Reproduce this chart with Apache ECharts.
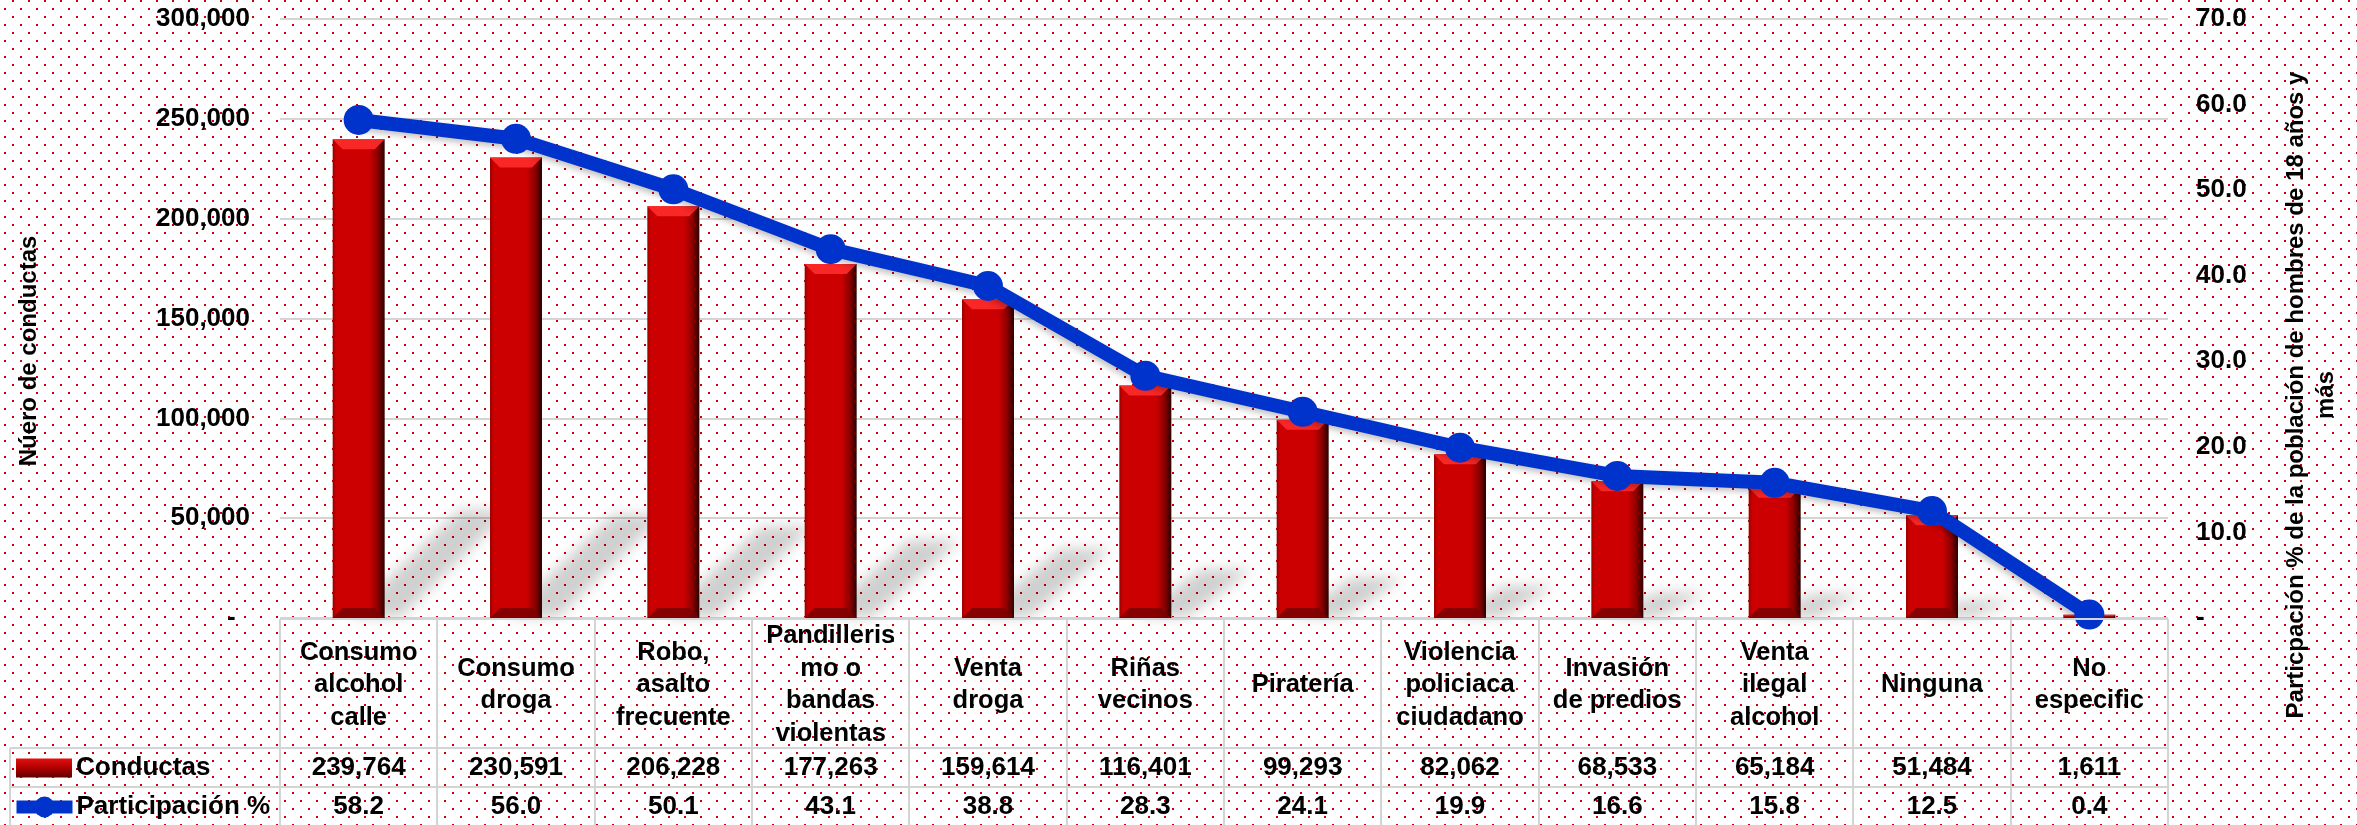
<!DOCTYPE html>
<html>
<head>
<meta charset="utf-8">
<title>Conductas</title>
<script src="https://cdn.jsdelivr.net/npm/echarts@6/dist/echarts.min.js"></script>
<style>
    html, body { margin: 0; padding: 0; background: #fff; }
    #main { width: 2357px; height: 825px; }
</style>
</head>
<body>
<div id="main"></div>
<script>
// datos
var categorias = ['Consumo\nalcohol\ncalle', 'Consumo\ndroga', 'Robo,\nasalto\nfrecuente', 'Pandilleris\nmo o\nbandas\nviolentas',
    'Venta\ndroga', 'Riñas\nvecinos', 'Piratería', 'Violencia\npoliciaca\nciudadano', 'Invasión\nde predios',
    'Venta\nilegal\nalcohol', 'Ninguna', 'No\nespecific'];
var conductas = [239764, 230591, 206228, 177263, 159614, 116401, 99293, 82062, 68533, 65184, 51484, 1611];
var participacion = [58.2, 56.0, 50.1, 43.1, 38.8, 28.3, 24.1, 19.9, 16.6, 15.8, 12.5, 0.4];
var ejeIzq = { min: 0, max: 300000, interval: 50000 };
var ejeDer = { min: 0, max: 70, interval: 10 };

var FONT = "'Liberation Sans', Arial, sans-serif";
var W = 2357, H = 825;
var plotLeft = 280, plotRight = 2168, plotTop = 19, plotBottom = 618;
var rowTop1 = 748, rowTop2 = 787;
var lineGris = '#d4d4d4';

function miles(n) {
    return n.toString().replace(/\B(?=(\d{3})+(?!\d))/g, ',');
}

// fondo de puntitos rojos
function patron() {
    var c = document.createElement('canvas');
    c.width = 16; c.height = 16;
    var ctx = c.getContext('2d');
    ctx.fillStyle = '#fff';
    ctx.fillRect(0, 0, 16, 16);
    ctx.fillStyle = '#cc0000';
    ctx.fillRect(12, 0, 2, 2);
    ctx.fillRect(4, 8, 2, 2);
    return c;
}

// lineas de la tabla de datos + titulos de ejes
function tabla() {
    var g = [];
    var colW = (plotRight - plotLeft) / categorias.length;
    var estilo = { stroke: lineGris, lineWidth: 2 };
    g.push({ type: 'line', shape: { x1: plotLeft, y1: plotBottom + 1, x2: plotRight, y2: plotBottom + 1 }, style: estilo, z: 5 });
    g.push({ type: 'line', shape: { x1: 10, y1: rowTop1, x2: plotRight, y2: rowTop1 }, style: estilo });
    g.push({ type: 'line', shape: { x1: 10, y1: rowTop2, x2: plotRight, y2: rowTop2 }, style: estilo });
    g.push({ type: 'line', shape: { x1: 10, y1: rowTop1, x2: 10, y2: H }, style: estilo });
    for (var i = 0; i <= categorias.length; i++) {
        var x = Math.round(plotLeft + i * colW);
        g.push({ type: 'line', shape: { x1: x, y1: plotBottom + 1, x2: x, y2: H }, style: estilo });
    }
    g.push({
        type: 'text', x: 29, y: 351, rotation: Math.PI / 2,
        style: { text: 'Núero de conductas', font: 'bold 24px ' + FONT, fill: '#000', textAlign: 'center', textVerticalAlign: 'middle' }
    });
    g.push({
        type: 'text', x: 2311, y: 395, rotation: Math.PI / 2,
        style: {
            text: 'Particpación % de la población de hombres de 18 años y\nmás', font: 'bold 24px ' + FONT,
            lineHeight: 30, fill: '#000', textAlign: 'center', textVerticalAlign: 'middle'
        }
    });
    return g;
}

var chart = echarts.init(document.getElementById('main'), null, { renderer: 'canvas' });

var textoBase = { color: '#000', fontFamily: FONT, fontWeight: 'bold', fontSize: 26 };

var option = {
    backgroundColor: { image: patron(), repeat: 'repeat' },
    animation: false,
    textStyle: { fontFamily: FONT },
    grid: { left: plotLeft, right: W - plotRight, top: plotTop, bottom: H - plotBottom, containLabel: false },
    legend: [{
        left: 16, top: 755, itemWidth: 56, itemHeight: 19, padding: 0,
        textStyle: Object.assign({ lineHeight: 26, padding: [0, 0, 0, -1] }, textoBase),
        data: [{
            name: 'Conductas', icon: 'rect',
            itemStyle: {
                color: {
                    type: 'linear', x: 0, y: 0, x2: 0, y2: 1,
                    colorStops: [{ offset: 0, color: '#e01010' }, { offset: 0.5, color: '#b00000' }, { offset: 1, color: '#600000' }]
                }
            }
        }]
    }, {
        left: 10, top: 794, itemWidth: 56, itemHeight: 26, padding: 0,
        textStyle: Object.assign({ lineHeight: 26, padding: [0, 0, 0, -1] }, textoBase),
        data: [{ name: 'Participación %', lineStyle: { width: 13 } }]
    }],
    xAxis: [{
        type: 'category', data: categorias,
        axisLine: { show: false }, axisTick: { show: false },
        axisLabel: Object.assign({}, textoBase, { fontSize: 25.5, interval: 0, margin: 67, lineHeight: 32.5, verticalAlign: 'middle', align: 'center' })
    }, {
        type: 'category', data: conductas.map(miles), position: 'bottom', offset: 150,
        axisLine: { show: false }, axisTick: { show: false },
        axisLabel: Object.assign({ interval: 0, margin: 0, verticalAlign: 'middle' }, textoBase)
    }, {
        type: 'category', data: participacion.map(function (v) { return v.toFixed(1); }), position: 'bottom', offset: 189,
        axisLine: { show: false }, axisTick: { show: false },
        axisLabel: Object.assign({ interval: 0, margin: 0, verticalAlign: 'middle' }, textoBase)
    }],
    yAxis: [{
        type: 'value', min: ejeIzq.min, max: ejeIzq.max, interval: ejeIzq.interval,
        axisLine: { show: false }, axisTick: { show: false },
        splitLine: { lineStyle: { color: lineGris, width: 2 } },
        axisLabel: {
            margin: 30, fontSize: 26, color: '#000', fontFamily: FONT, fontWeight: 'bold',
            formatter: function (v) { return v === 0 ? '-  ' : miles(v); }
        }
    }, {
        type: 'value', position: 'right', min: ejeDer.min, max: ejeDer.max, interval: ejeDer.interval,
        axisLine: { show: false }, axisTick: { show: false }, splitLine: { show: false },
        axisLabel: {
            margin: 28, fontSize: 26, color: '#000', fontFamily: FONT, fontWeight: 'bold',
            formatter: function (v) { return v === 0 ? '-' : v.toFixed(1); }
        }
    }],
    graphic: tabla(),
    series: [{
        // sombra en perspectiva de cada barra (solo se ve la sombra difuminada)
        type: 'custom', name: 'sombra', z: 1, silent: true, clip: false,
        data: conductas.map(function (v, i) { return [i, v]; }),
        renderItem: function (params, api) {
            var base = api.coord([api.value(0), 0]);
            var top = api.coord([api.value(0), api.value(1)]);
            var h = base[1] - top[1];
            var t = Math.max(0, h * 0.24 - 8);
            var dx = 40 + h * 0.18;
            var x0 = base[0] - 26, x1 = base[0] + 26, yb = base[1] - 1;
            var off = 4000;
            return {
                type: 'polygon',
                shape: { points: [[x0 + 16 - off, yb], [x1 + 16 - off, yb], [x1 + dx - off, yb - t], [x0 + dx - off, yb - t]] },
                style: { fill: '#000', shadowBlur: 14, shadowColor: 'rgba(0,0,0,0.19)', shadowOffsetX: off, shadowOffsetY: 0 }
            };
        },
        encode: { x: 0, y: 1 }
    }, {
        name: 'Conductas', type: 'bar', data: conductas, barWidth: 52, z: 2,
        itemStyle: {
            color: {
                type: 'linear', x: 0, y: 0, x2: 1, y2: 0,
                colorStops: [
                    { offset: 0, color: '#990000' }, { offset: 0.07, color: '#cc0000' },
                    { offset: 0.7, color: '#cc0000' }, { offset: 0.87, color: '#8c0000' },
                    { offset: 1, color: '#2a0000' }
                ]
            }
        }
    }, {
        // biseles arriba y abajo
        type: 'custom', name: 'bisel', z: 3, silent: true,
        data: conductas.map(function (v, i) { return [i, v]; }),
        renderItem: function (params, api) {
            var base = api.coord([api.value(0), 0]);
            var top = api.coord([api.value(0), api.value(1)]);
            var h = base[1] - top[1];
            var b = Math.min(10, h / 2);
            var x0 = base[0] - 26, x1 = base[0] + 26;
            return {
                type: 'group',
                children: [{
                    type: 'polygon',
                    shape: { points: [[x0, top[1]], [x1, top[1]], [x1 - b, top[1] + b], [x0 + b, top[1] + b]] },
                    style: { fill: '#ff2b2b', opacity: 0.9 }
                }, {
                    type: 'polygon',
                    shape: { points: [[x0, base[1]], [x1, base[1]], [x1 - b, base[1] - b], [x0 + b, base[1] - b]] },
                    style: { fill: '#7a0000', opacity: 0.85 }
                }]
            };
        },
        encode: { x: 0, y: 1 }
    }, {
        name: 'Participación %', type: 'line', yAxisIndex: 1, data: participacion, z: 4,
        symbol: 'circle', symbolSize: 30,
        lineStyle: { width: 14, color: '#0033cc', shadowColor: 'rgba(0,0,0,0.25)', shadowBlur: 6, shadowOffsetX: -2, shadowOffsetY: 3 },
        itemStyle: { color: '#0033cc' }
    }]
};

chart.setOption(option);
</script>
</body>
</html>
